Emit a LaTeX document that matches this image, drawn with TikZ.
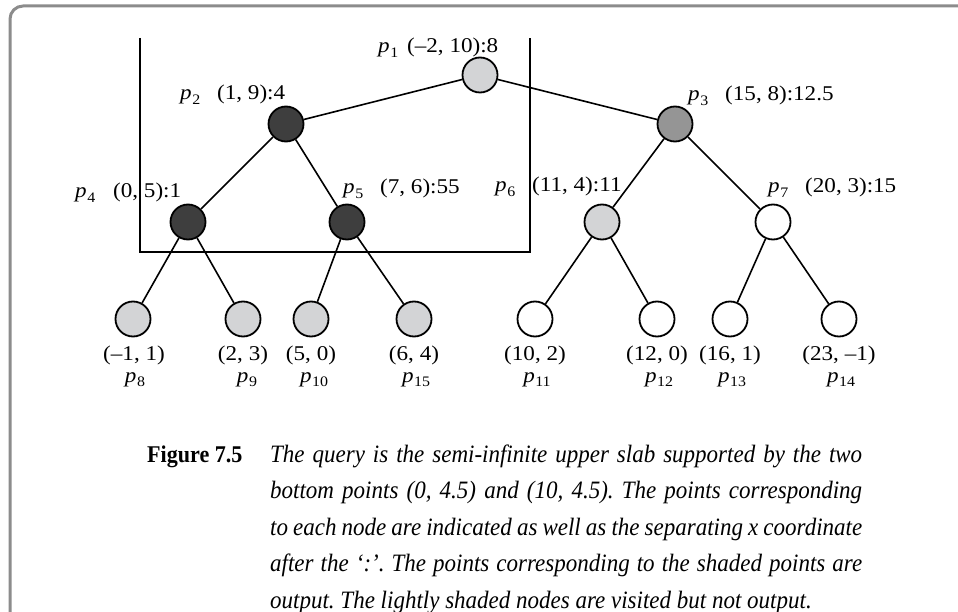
\documentclass[tikz,border=0pt]{standalone}
\usepackage{fontspec}
\setmainfont{Liberation Serif}
\newfontfamily\lblfont[FakeStretch=1.1]{Liberation Serif}
\newfontfamily\capfont[FakeStretch=0.92]{Liberation Serif}
\definecolor{darkfill}{HTML}{3E3E3E}
\definecolor{midfill}{HTML}{959595}
\definecolor{lightfill}{HTML}{D3D4D6}
\definecolor{framecol}{HTML}{8C8C8C}
\newcommand\pl[1]{\textit{p}\kern0.5pt\raisebox{-4.5pt}{\fontsize{14.5}{14.5}\selectfont #1}}
\frenchspacing
\begin{document}
\begin{tikzpicture}[x=1pt,y=-1pt,
  pt/.style={circle,draw=black,line width=1.8pt,minimum size=35pt,inner sep=0pt},
  darkpt/.style={pt,fill=darkfill},
  midpt/.style={pt,fill=midfill},
  lightpt/.style={pt,fill=lightfill},
  openpt/.style={pt,fill=white},
  link/.style={line width=1.6pt},
  slab/.style={line width=2pt},
  lbl/.style={anchor=base west,inner sep=0pt,font=\lblfont\fontsize{21}{24}\selectfont},
  leaflbl/.style={anchor=base,inner sep=0pt,font=\lblfont\fontsize{21}{24}\selectfont},
  capline/.style={anchor=base west,inner sep=0pt,font=\capfont\itshape\fontsize{25}{28}\selectfont}
]
\useasboundingbox (0,0) rectangle (958,612);
\draw[framecol,line width=3pt,rounded corners=13pt] (10,6) rectangle (1000,650);

% slab
\coordinate (s1) at (140,38);
\coordinate (s2) at (140,252);
\coordinate (s3) at (530,252);
\coordinate (s4) at (530,38);
\draw[slab] (s1) -- (s2) -- (s3) -- (s4);

% nodes
\node[lightpt] (p1) at (480,75) {};
\node[darkpt] (p2) at (286,124) {};
\node[midpt] (p3) at (675,124) {};
\node[darkpt] (p4) at (188,222) {};
\node[darkpt] (p5) at (347,222) {};
\node[lightpt] (p6) at (602,222) {};
\node[openpt] (p7) at (773,222) {};
\node[lightpt] (p8) at (133,319) {};
\node[lightpt] (p9) at (243,319) {};
\node[lightpt] (p10) at (311,319) {};
\node[lightpt] (p15) at (414,319) {};
\node[openpt] (p11) at (535,319) {};
\node[openpt] (p12) at (657,319) {};
\node[openpt] (p13) at (730,319) {};
\node[openpt] (p14) at (839,319) {};

% edges
\draw[link] (p1) -- (p2);
\draw[link] (p1) -- (p3);
\draw[link] (p2) -- (p4);
\draw[link] (p2) -- (p5);
\draw[link] (p3) -- (p6);
\draw[link] (p3) -- (p7);
\draw[link] (p4) -- (p8);
\draw[link] (p4) -- (p9);
\draw[link] (p5) -- (p10);
\draw[link] (p5) -- (p15);
\draw[link] (p6) -- (p11);
\draw[link] (p6) -- (p12);
\draw[link] (p7) -- (p13);
\draw[link] (p7) -- (p14);

% internal labels
\node[lbl] (l1p) at (378,53) {\pl{1}};
\node[lbl] (l1c) at (407,53) {(–2, 10):8};
\node[lbl] (l2p) at (180,100) {\pl{2}};
\node[lbl] (l2c) at (217,100) {(1, 9):4};
\node[lbl] (l4p) at (75,198) {\pl{4}};
\node[lbl] (l4c) at (113,198) {(0, 5):1};
\node[lbl] (l5p) at (343,194) {\pl{5}};
\node[lbl] (l5c) at (380,194) {(7, 6):55};
\node[lbl] (l3p) at (688,101) {\pl{3}};
\node[lbl] (l3c) at (725,101) {(15, 8):12.5};
\node[lbl] (l6p) at (495,192) {\pl{6}};
\node[lbl] (l6c) at (532,192) {(11, 4):11};
\node[lbl] (l7p) at (768,193) {\pl{7}};
\node[lbl] (l7c) at (805,193) {(20, 3):15};

% leaf labels
\node[leaflbl] (l8c) at (134,360) {(–1, 1)};
\node[leaflbl] (l8p) at (135,382) {\pl{8}};
\node[leaflbl] (l9c) at (243,360) {(2, 3)};
\node[leaflbl] (l9p) at (247,382) {\pl{9}};
\node[leaflbl] (l10c) at (311,360) {(5, 0)};
\node[leaflbl] (l10p) at (314,382) {\pl{10}};
\node[leaflbl] (l15c) at (414,360) {(6, 4)};
\node[leaflbl] (l15p) at (416,382) {\pl{15}};
\node[leaflbl] (l11c) at (535,360) {(10, 2)};
\node[leaflbl] (l11p) at (537,382) {\pl{11}};
\node[leaflbl] (l12c) at (657,360) {(12, 0)};
\node[leaflbl] (l12p) at (659,382) {\pl{12}};
\node[leaflbl] (l13c) at (730,360) {(16, 1)};
\node[leaflbl] (l13p) at (732,382) {\pl{13}};
\node[leaflbl] (l14c) at (839,360) {(23, –1)};
\node[leaflbl] (l14p) at (841,382) {\pl{14}};

% caption
\node[anchor=base west,inner sep=0pt,font=\capfont\bfseries\fontsize{24}{28}\selectfont] (figlbl) at (147,462) {Figure 7.5};
\node[capline] (c1) at (270,462) {\makebox[592pt][s]{The query is the semi-infinite upper slab supported by the two}};
\node[capline] (c2) at (270,498.5) {\makebox[592pt][s]{bottom points (0, 4.5) and (10, 4.5). The points corresponding}};
\node[capline] (c3) at (270,535) {\makebox[592pt][s]{to each node are indicated as well as the separating x coordinate}};
\node[capline] (c4) at (270,571.5) {\makebox[592pt][s]{after the ‘:’. The points corresponding to the shaded points are}};
\node[capline] (c5) at (270,608) {output. The lightly shaded nodes are visited but not output.};
\end{tikzpicture}
\end{document}
